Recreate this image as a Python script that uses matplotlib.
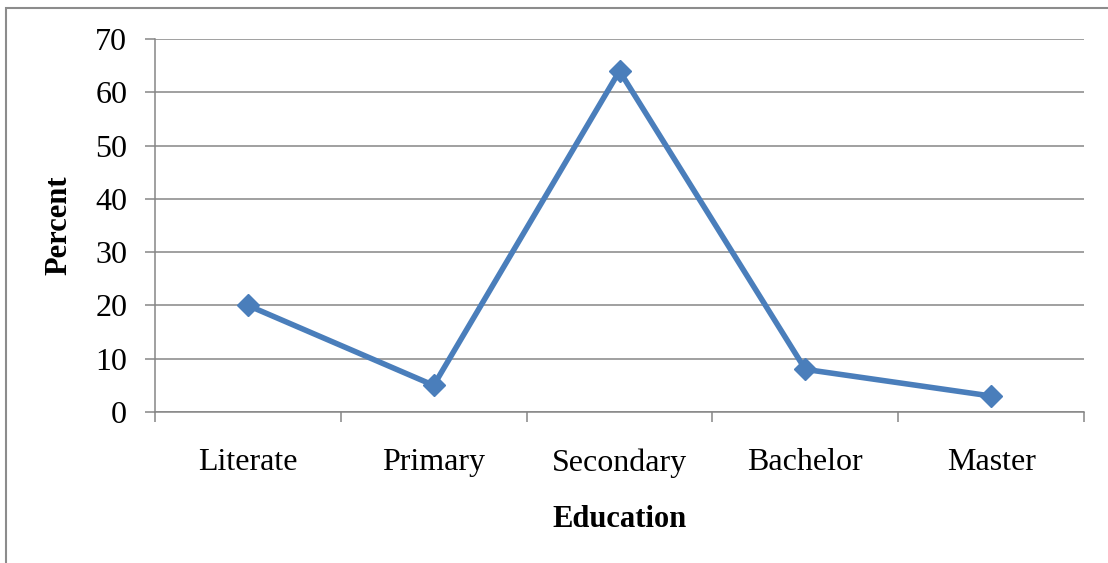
import matplotlib.pyplot as plt
import numpy as np
from matplotlib.patches import Rectangle

# Education levels and share of respondents (%)
categories = ["Literate", "Primary", "Secondary", "Bachelor", "Master"]
percent = [20, 5, 64, 8, 3]
y_ticks = [0, 10, 20, 30, 40, 50, 60, 70]

plt.rcParams["font.family"] = ["Liberation Serif", "DejaVu Serif"]

grid_col = "#868686"
line_col = "#4A7EBB"

fig = plt.figure(figsize=(11.08, 5.63), dpi=100)
ax = fig.add_axes([155 / 1108, 1 - 412 / 563, (1084 - 155) / 1108, (412 - 39) / 563])

x = np.arange(len(categories))
ax.plot(x, percent, color=line_col, linewidth=4.0, marker="D", markersize=11,
        markerfacecolor=line_col, markeredgecolor=line_col, zorder=3)

ax.set_xlim(-0.5, len(categories) - 0.5)
ax.set_ylim(0, 70)
ax.set_yticks(y_ticks)
ax.yaxis.grid(True, color=grid_col, linewidth=1.1)
ax.set_axisbelow(True)

# category labels sit between the tick marks
ax.set_xticks(x)
ax.set_xticklabels(categories, fontsize=23)
ax.set_xticks(np.arange(-0.5, len(categories)), minor=True)
ax.tick_params(axis="x", which="major", length=0, pad=26)
ax.tick_params(axis="x", which="minor", length=7, width=1.1, color=grid_col)
ax.tick_params(axis="y", length=7, width=1.1, color=grid_col, labelsize=23, pad=13)

for side in ["top", "right"]:
    ax.spines[side].set_visible(False)
for side in ["left", "bottom"]:
    ax.spines[side].set_color(grid_col)
    ax.spines[side].set_linewidth(1.1)

ax.set_xlabel("Education", fontsize=22, fontweight="bold", labelpad=20)
ax.set_ylabel("Percent", fontsize=22, fontweight="bold", labelpad=16)

# outer chart border (cut off at right and bottom)
fig.patches.append(Rectangle((6 / 1108, -0.1), 1.2, (563 - 8) / 563 + 0.1,
                             transform=fig.transFigure, fill=False,
                             edgecolor="#8c8c8c", linewidth=1.5))

fig.savefig("out.png", dpi=100)
